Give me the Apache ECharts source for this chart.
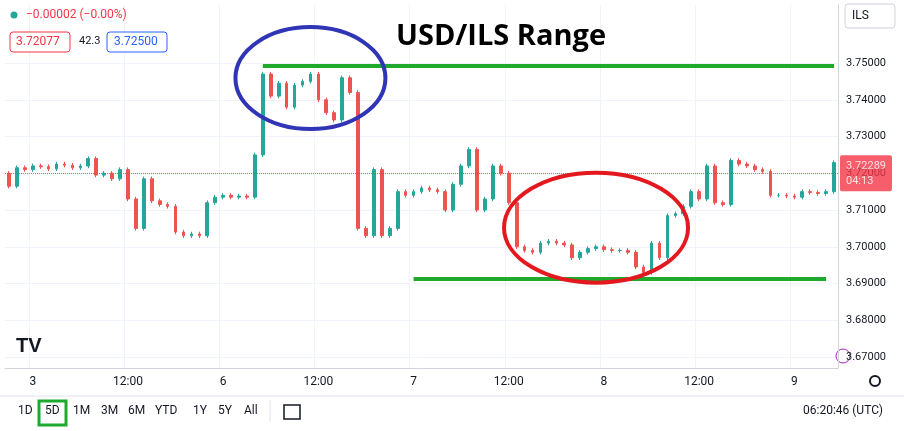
<!DOCTYPE html>
<html><head><meta charset="utf-8">
<script src="https://cdn.jsdelivr.net/npm/echarts@6/dist/echarts.min.js"></script>
<style>html,body{margin:0;padding:0;background:#fff}#c{width:904px;height:431px}</style>
</head><body><div id="c"></div>
<script>
// hourly closes, from day 2 21:00 to day 9 05:00 (weekend skipped)
const closes = [3.7165,3.7215,3.7210,3.7220,3.7218,3.7212,3.7225,3.7222,3.7215,3.7220,
3.7240,3.7195,3.7200,3.7185,3.7210,3.7130,3.7050,3.7185,3.7125,3.7115,
3.7110,3.7040,3.7030,3.7035,3.7030,3.7120,3.7135,3.7140,3.7135,3.7138,
3.7135,3.7250,3.7470,3.7410,3.7445,3.7380,3.7440,3.7450,3.7470,3.7400,
3.7365,3.7345,3.7460,3.7420,3.7050,3.7030,3.7210,3.7030,3.7050,3.7150,
3.7140,3.7150,3.7160,3.7155,3.7150,3.7100,3.7170,3.7220,3.7265,3.7100,
3.7130,3.7220,3.7200,3.7120,3.7000,3.6990,3.6985,3.7010,3.7015,3.7010,
3.7005,3.6970,3.6985,3.6995,3.7000,3.6992,3.6990,3.6990,3.6985,3.6945,
3.6930,3.7010,3.6970,3.7085,3.7090,3.7110,3.7150,3.7130,3.7220,3.7120,
3.7115,3.7235,3.7225,3.7220,3.7210,3.7205,3.7140,3.7140,3.7138,3.7135,
3.7150,3.7148,3.7145,3.7150,3.7229];
const firstOpen = 3.7200;
const yTicks = [3.67,3.68,3.69,3.70,3.71,3.72,3.73,3.74,3.75];
const lastPrice = 3.72289;
const resistance = 3.7492, support = 3.6912;
const periods = [['1M',73],['3M',101],['6M',128],['YTD',155],['1Y',193],['5Y',218],['All',244]];

const cats = [];
for (let h=21; h<24; h++) cats.push('2 '+h);
for (let h=0; h<21; h++) cats.push('3 '+h);
for (let h=21; h<24; h++) cats.push('5 '+h);
for (const d of [6,7,8]) for (let h=0; h<24; h++) cats.push(d+' '+h);
for (let h=0; h<6; h++) cats.push('9 '+h);

const ohlc = closes.map((c,i)=>{
  const o = i===0 ? firstOpen : closes[i-1];
  return [o, c, Math.min(o,c)-0.0006, Math.max(o,c)+0.0006];
});
const isTick = (v)=>{const [d,h]=v.split(' ');return (h==='0'||h==='12') && d!=='5';};
const fmtX = (v)=>{const [d,h]=v.split(' ');return h==='0'?d:'12:00';};

const chart = echarts.init(document.getElementById('c'));
chart.setOption({
  animation:false,
  textStyle:{fontFamily:'Roboto, Arial, sans-serif'},
  grid:{left:5,right:66,top:5,bottom:63},
  xAxis:{type:'category',data:cats,boundaryGap:true,
    axisLine:{lineStyle:{color:'#d0d3da'}},axisTick:{show:false},
    axisLabel:{color:'#131722',fontSize:12,margin:8,interval:(i,v)=>isTick(v),formatter:fmtX},
    splitLine:{show:true,interval:(i,v)=>isTick(v),lineStyle:{color:'#f0f3fa'}}},
  yAxis:{type:'value',position:'right',min:3.667,max:3.7658,scale:true,
    axisLine:{show:true,lineStyle:{color:'#d0d3da'}},
    axisTick:{show:false,customValues:yTicks},
    axisLabel:{color:'#131722',fontSize:11,margin:8,customValues:yTicks,formatter:v=>v.toFixed(5)},
    splitLine:{show:true,lineStyle:{color:'#f0f3fa'}}},
  series:[{type:'candlestick',data:ohlc,barWidth:'40%',
    itemStyle:{color:'#26a69a',color0:'#ef5350',borderColor:'#26a69a',borderColor0:'#ef5350'},
    markLine:{symbol:'none',silent:true,label:{show:false},data:[
      [{coord:[32,resistance]},{coord:[104,resistance]}],
      [{coord:[51,support]},{coord:[103,support]}]
    ],lineStyle:{color:'#1faa2e',width:4,type:'solid'}}},
   {type:'line',data:[],markLine:{symbol:'none',silent:true,
     label:{show:true,position:'end',distance:2,formatter:'3.72289\n04:13',color:'#fff',backgroundColor:'#f23645',padding:[3,6],fontSize:11,lineHeight:15,borderRadius:2},
     lineStyle:{color:'#f23645',type:'dotted',width:1,opacity:0.8},data:[{yAxis:lastPrice}]}}]
});

function ell(idx,price,rx,ry,color){
  const p = chart.convertToPixel({gridIndex:0},[idx,price]);
  return {type:'ellipse',shape:{cx:p[0],cy:p[1],rx:rx,ry:ry},style:{fill:null,stroke:color,lineWidth:4},z:100};
}
const gr = [
  ell(37.7,3.7459,75,51,'#2f35b5'),
  ell(73.5,3.7052,92,55,'#e3191f'),
  {type:'text',left:396,top:22,style:{text:'USD/ILS Range',font:'bold 29px "Open Sans", Arial, sans-serif',fill:'#000'}},
  {type:'circle',shape:{cx:14,cy:15,r:3.5},style:{fill:'#26a69a'}},
  {type:'text',left:26,top:9,style:{text:'−0.00002 (−0.00%)',fill:'#f23645',font:'12px Roboto, sans-serif'}},
  {type:'rect',shape:{x:10,y:32,width:60,height:20,r:3},style:{fill:'#fff',stroke:'#f23645'}},
  {type:'text',left:16,top:36,style:{text:'3.72077',fill:'#f23645',font:'12px Roboto, sans-serif'}},
  {type:'text',left:79,top:36,style:{text:'42.3',fill:'#131722',font:'11px Roboto, sans-serif'}},
  {type:'rect',shape:{x:107,y:32,width:60,height:20,r:3},style:{fill:'#fff',stroke:'#2962ff'}},
  {type:'text',left:114,top:36,style:{text:'3.72500',fill:'#2962ff',font:'12px Roboto, sans-serif'}},
  {type:'rect',shape:{x:845,y:4,width:50,height:24,r:3},style:{fill:'#fff',stroke:'#d0d3da'}},
  {type:'text',left:852,top:10,style:{text:'ILS',fill:'#131722',font:'12px Roboto, sans-serif'}},
  {type:'text',left:16,top:336,style:{text:'TV',fill:'#131722',font:'bold 20px Arial, sans-serif'}},
  {type:'line',shape:{x1:0,y1:396,x2:904,y2:396},style:{stroke:'#e0e3eb'}},
  {type:'text',left:18,top:405,style:{text:'1D',fill:'#131722',font:'12px Roboto, sans-serif'}},
  {type:'rect',shape:{x:39,y:401,width:27,height:24},style:{fill:'#fff',stroke:'#1faa2e',lineWidth:3}},
  {type:'text',left:45,top:405,style:{text:'5D',fill:'#131722',font:'12px Roboto, sans-serif'}},
  ...periods.map(([t,x])=>({type:'text',left:x,top:405,style:{text:t,fill:'#131722',font:'12px Roboto, sans-serif'}})),
  {type:'line',shape:{x1:270,y1:400,x2:270,y2:422},style:{stroke:'#e0e3eb'}},
  {type:'rect',shape:{x:284,y:405,width:16,height:14},style:{fill:'none',stroke:'#131722',lineWidth:1.5}},
  {type:'text',left:803,top:405,style:{text:'06:20:46 (UTC)',fill:'#131722',font:'12px Roboto, sans-serif'}},
  {type:'circle',shape:{cx:875,cy:381,r:5},style:{fill:'none',stroke:'#131722',lineWidth:2}},
  {type:'circle',shape:{cx:843,cy:356,r:7},style:{fill:'none',stroke:'#9c27b0',lineWidth:1}}
];
chart.setOption({graphic:gr});
</script></body></html>
